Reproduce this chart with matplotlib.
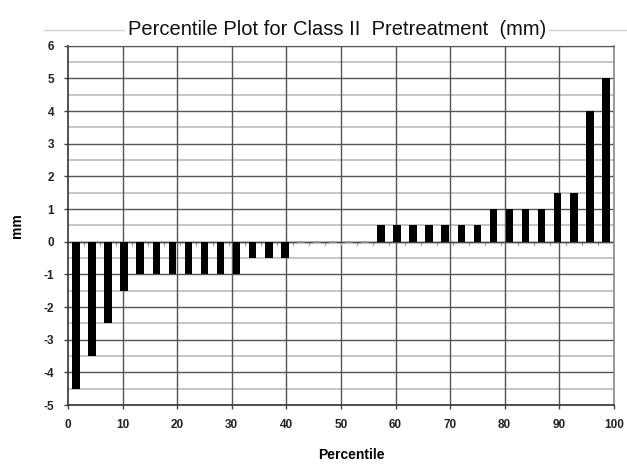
import numpy as np
import matplotlib
matplotlib.use("Agg")
import matplotlib.pyplot as plt
from matplotlib.lines import Line2D

plt.rcParams['font.family'] = ['Liberation Sans', 'DejaVu Sans']
plt.rcParams['axes.unicode_minus'] = False

# Sorted pretreatment measurements (mm), one per subject
values = [-4.5, -3.5, -2.5, -1.5, -1, -1, -1, -1, -1, -1, -1, -0.5, -0.5, -0.5,
          0, 0, 0, 0, 0,
          0.5, 0.5, 0.5, 0.5, 0.5, 0.5, 0.5,
          1, 1, 1, 1, 1.5, 1.5, 4, 5]
x_ticks = [0, 10, 20, 30, 40, 50, 60, 70, 80, 90, 100]
y_ticks = [-5, -4, -3, -2, -1, 0, 1, 2, 3, 4, 5, 6]

n = len(values)
step = 100.0 / n
pct = (np.arange(n) + 0.5) * step

fig = plt.figure(figsize=(6.27, 4.68), dpi=100)
ax = fig.add_axes([0.1085, 0.1346, 0.8705, 0.7676])

# faint rule across the header, interrupted by the title
fig.add_artist(Line2D([0.07, 1.0], [0.936, 0.936], color='#d0d0d0', lw=1.0,
                      transform=fig.transFigure, zorder=0))

ax.set_xlim(0, 100)
ax.set_ylim(-5, 6)

# grid: integer and half-unit horizontal lines, vertical lines every 10
for yv in np.arange(-5, 6.01, 0.5):
    major = abs(yv - round(yv)) < 1e-9
    ax.axhline(yv, color='#555555' if major else '#bbbbbb',
               lw=1.0 if major else 1.2, zorder=1)
for xv in x_ticks[1:-1]:
    ax.axvline(xv, color='#555555', lw=1.0, zorder=1)

edge = ['#999999' if v == 0 else 'black' for v in values]
ax.bar(pct, values, width=1.4, color='black', edgecolor=edge,
       linewidth=[1.2 if v == 0 else 0 for v in values], zorder=3)

# category ticks along the zero line
for k in range(1, n):
    ax.plot([k * step, k * step], [0, -0.09], color='#999999', lw=0.8, zorder=2)
ax.axhline(0, color='#444444', lw=1.0, zorder=2)

ax.set_xticks(x_ticks)
ax.set_yticks(y_ticks)
ax.tick_params(axis='both', length=3, width=1, color='#444444',
               labelsize=8.5, pad=7)
for lab in ax.get_xticklabels() + ax.get_yticklabels():
    lab.set_fontweight('bold')
    lab.set_color('#222222')

for side in ['left', 'bottom']:
    ax.spines[side].set_color('#333333')
    ax.spines[side].set_linewidth(1.2)
ax.spines['right'].set_color('#888888')
ax.spines['right'].set_linewidth(1.2)
ax.spines['top'].set_color('#555555')

ax.set_xlabel('Percentile', fontsize=10, fontweight='bold')
ax.xaxis.set_label_coords(0.52, -0.12)
ax.set_ylabel('mm', fontsize=10, fontweight='bold', labelpad=14)

fig.text(0.538, 0.937, 'Percentile Plot for Class II  Pretreatment  (mm)',
         ha='center', va='center', fontsize=14.5, color='#111111',
         bbox=dict(facecolor='white', edgecolor='none', pad=2))

fig.savefig('out.png', dpi=100)
